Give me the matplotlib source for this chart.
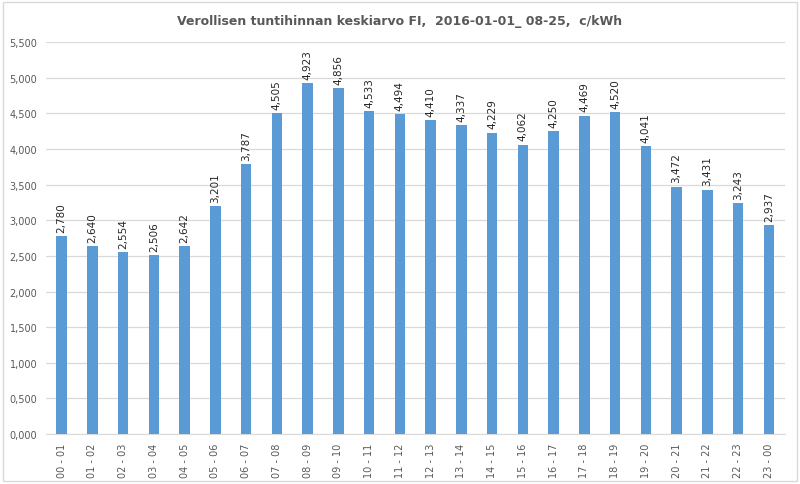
import matplotlib.pyplot as plt
from matplotlib.patches import Rectangle

# Average hourly price (incl. tax), c/kWh
hours = ['00 - 01', '01 - 02', '02 - 03', '03 - 04', '04 - 05', '05 - 06',
         '06 - 07', '07 - 08', '08 - 09', '09 - 10', '10 - 11', '11 - 12',
         '12 - 13', '13 - 14', '14 - 15', '15 - 16', '16 - 17', '17 - 18',
         '18 - 19', '19 - 20', '20 - 21', '21 - 22', '22 - 23', '23 - 00']
prices = [2.780, 2.640, 2.554, 2.506, 2.642, 3.201, 3.787, 4.505, 4.923, 4.856,
          4.533, 4.494, 4.410, 4.337, 4.229, 4.062, 4.250, 4.469, 4.520, 4.041,
          3.472, 3.431, 3.243, 2.937]

txt = '#595959'

fig = plt.figure(figsize=(8, 4.85), dpi=100)
ax = fig.add_axes([0.057, 0.103, 0.924, 0.808])

x = range(len(hours))
ax.bar(x, prices, width=0.34, color='#5B9BD5', zorder=3)

for i, v in zip(x, prices):
    ax.text(i, v + 0.06, f'{v:.3f}'.replace('.', ','), rotation=90, ha='center', va='bottom',
            fontsize=7.5, color='#262626', zorder=4)

ax.set_xlim(-0.52, len(hours) - 0.48)
ax.set_ylim(0, 5.5)
ax.set_yticks([i * 0.5 for i in range(12)])
ax.set_yticklabels([f'{i * 0.5:.3f}'.replace('.', ',') for i in range(12)], fontsize=7, color=txt)
ax.set_xticks(list(x))
ax.set_xticklabels(hours, rotation=90, fontsize=7, color=txt)
ax.tick_params(length=0, pad=6)
ax.grid(axis='y', color='#D9D9D9', linewidth=0.9, zorder=0)
for s in ['top', 'right', 'left']:
    ax.spines[s].set_visible(False)
ax.spines['bottom'].set_color('#D9D9D9')

fig.text(0.5, 0.955, 'Verollisen tuntihinnan keskiarvo FI,  2016-01-01_ 08-25,  c/kWh',
         ha='center', va='center', fontsize=9, fontweight='bold', color=txt)

fig.patches.append(Rectangle((0.004, 0.006), 0.992, 0.988, transform=fig.transFigure,
                             fill=False, edgecolor='#D9D9D9', linewidth=1))

fig.savefig('out.png', dpi=100)
